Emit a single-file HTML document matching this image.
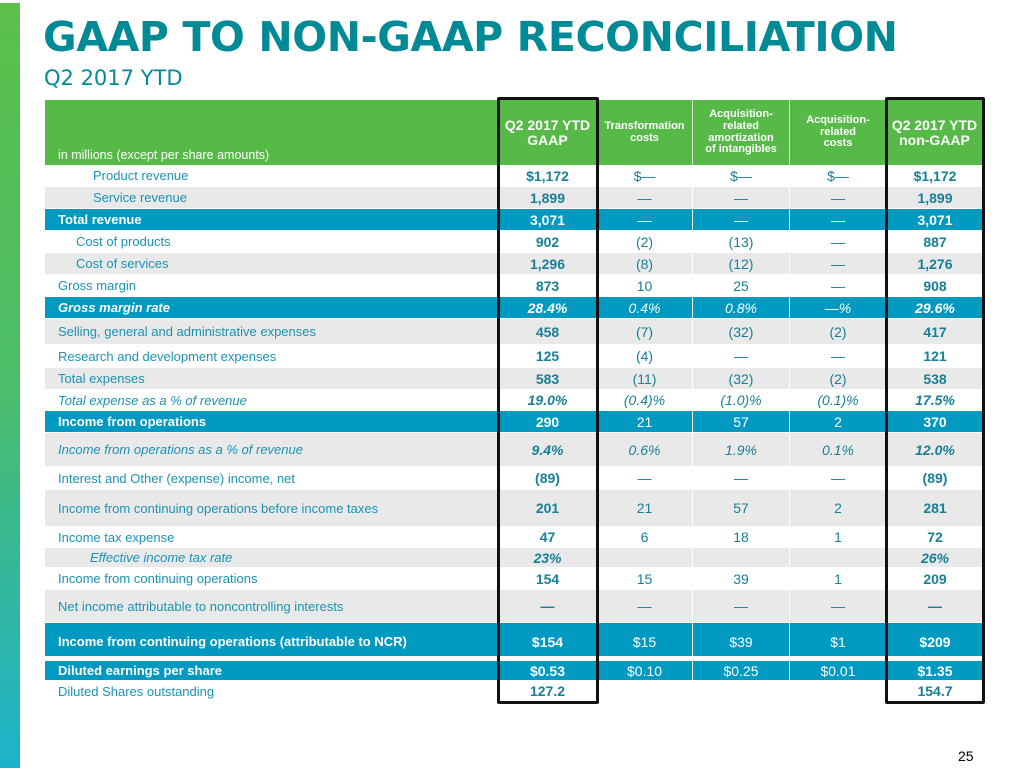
<!DOCTYPE html>
<html><head><meta charset="utf-8"><style>
body{margin:0;width:1024px;height:768px;position:relative;background:#fff;overflow:hidden;font-family:"Liberation Sans",Arial,sans-serif}
.abs{position:absolute}
#bar{left:0;top:3px;width:20px;height:765px;background:linear-gradient(#5cc04a,#4cbd6a 50%,#1db2cc)}
#title{left:43px;top:13px;font:bold 41px "DejaVu Sans",sans-serif;color:#008a96;white-space:nowrap;letter-spacing:-0.4px}
#sub{left:44px;top:66px;font:21px "DejaVu Sans",sans-serif;color:#008a96;white-space:nowrap}
.cell{position:absolute;box-sizing:border-box;display:flex;align-items:center;font-size:13px;white-space:nowrap;font-family:"Liberation Sans",Arial,sans-serif}
.hd{background:#57b947;color:#fff;font-weight:bold;justify-content:center;text-align:center;line-height:1.05;border-right:1px solid #cfe9c9}
.box{position:absolute;border:3px solid #111;box-sizing:border-box;border-radius:2px}
</style></head><body>
<div class="abs" id="bar"></div>
<div class="abs" id="title">GAAP TO NON-GAAP RECONCILIATION</div>
<div class="abs" id="sub">Q2 2017 YTD</div>
<div id="tbl"></div>
<div class="abs" style="left:958px;top:748px;font-size:14px;color:#000">25</div>
<script>
const labels=["Product revenue","Service revenue","Total revenue","Cost of products","Cost of services","Gross margin","Gross margin rate","Selling, general and administrative expenses","Research and development expenses","Total expenses","Total expense as a % of revenue","Income from operations","Income from operations as a % of revenue","Interest and Other (expense) income, net","Income from continuing operations before income taxes","Income tax expense","Effective income tax rate","Income from continuing operations","Net income attributable to noncontrolling interests","Income from continuing operations (attributable to NCR)","Diluted earnings per share","Diluted Shares outstanding"];
const gaap=["$1,172","1,899","3,071","902","1,296","873","28.4%","458","125","583","19.0%","290","9.4%","(89)","201","47","23%","154","—","$154","$0.53","127.2"];
const transformation=["$—","—","—","(2)","(8)","10","0.4%","(7)","(4)","(11)","(0.4)%","21","0.6%","—","21","6","","15","—","$15","$0.10",""];
const amortization=["$—","—","—","(13)","(12)","25","0.8%","(32)","—","(32)","(1.0)%","57","1.9%","—","57","18","","39","—","$39","$0.25",""];
const acqCosts=["$—","—","—","—","—","—","—%","(2)","—","(2)","(0.1)%","2","0.1%","—","2","1","","1","—","$1","$0.01",""];
const nonGaap=["$1,172","1,899","3,071","887","1,276","908","29.6%","417","121","538","17.5%","370","12.0%","(89)","281","72","26%","209","—","$209","$1.35","154.7"];
// layout (not data)
const colX=[45,499,597,693,790,887,983];
const rowY=[165,187,209,231,253,275,297,319,345,368,390,411,433,467,490,527,548,568,590,623,661,681,702];
const styles=["w","g","b","w","g","w","b","g","w","g","w","b","g","w","g","w","g","w","g","b","b","w"];
const indent=[48,48,13,31,31,13,13,13,13,13,13,13,13,13,13,13,45,13,13,13,13,13];
const italic=[0,0,0,0,0,0,1,0,0,0,1,0,1,0,0,0,1,0,0,0,0,0];
const boldLbl=[0,0,1,0,0,0,1,0,0,0,0,1,0,0,0,0,0,0,0,1,1,0];
const tbl=document.getElementById('tbl');
const hdrHtml=["","Q2 2017 YTD<br>GAAP","Transformation<br>costs","Acquisition-<br>related<br>amortization<br>of intangibles","Acquisition-<br>related<br>costs","Q2 2017 YTD<br>non-GAAP"];
for(let c=0;c<6;c++){
  const d=document.createElement('div');
  d.className='cell hd';
  d.style.left=colX[c]+'px';d.style.top='100px';d.style.width=(colX[c+1]-colX[c])+'px';d.style.height='65px';
  if(c==0){d.style.alignItems='flex-end';d.style.justifyContent='flex-start';d.style.paddingLeft='13px';d.style.paddingBottom='3px';d.style.fontWeight='normal';d.style.fontSize='12.5px';d.textContent='in millions (except per share amounts)';}
  else{d.innerHTML=hdrHtml[c];d.style.fontSize=(c==1||c==5)?'14px':'11px';}
  
  
  tbl.appendChild(d);
}
const cols=[labels,gaap,transformation,amortization,acqCosts,nonGaap];
for(let r=0;r<labels.length;r++){
  const st=styles[r];
  const bg=st=='b'?'#0099c2':st=='g'?'#e9e9e9':'#fff';
  for(let c=0;c<6;c++){
    const d=document.createElement('div');
    d.className='cell';
    d.style.left=colX[c]+'px';d.style.top=rowY[r]+'px';
    d.style.width=(colX[c+1]-colX[c])+'px';d.style.height=(rowY[r+1]-rowY[r])+'px';
    d.style.background=bg;
    d.style.borderRight=c<5?'1px solid #fff':'none';
    d.style.borderBottom='1px solid #fff';
    if(italic[r])d.style.fontStyle='italic';
    if(c==0){
      d.style.paddingLeft=indent[r]+'px';
      d.style.color=st=='b'?'#fff':'#1a93b5';
      if(boldLbl[r])d.style.fontWeight='bold';
    }else{
      d.style.justifyContent='center';
      d.style.fontSize='14px';
      d.style.color=st=='b'?'#fff':'#177f96';
      if(c==1||c==5)d.style.fontWeight='bold';
    }
    d.textContent=cols[c][r];
    
    
    tbl.appendChild(d);
  }
}
const gap=document.createElement('div');
gap.className='abs';gap.style.cssText='left:45px;top:656px;width:938px;height:5px;background:#fff';


tbl.appendChild(gap);
[[497,102],[885,100]].forEach(([x,w],i)=>{
  const b=document.createElement('div');
  b.className='box';b.style.left=x+'px';b.style.top='97px';b.style.width=w+'px';b.style.height='607px';
  
  
  tbl.appendChild(b);
});
</script>
</body></html>
